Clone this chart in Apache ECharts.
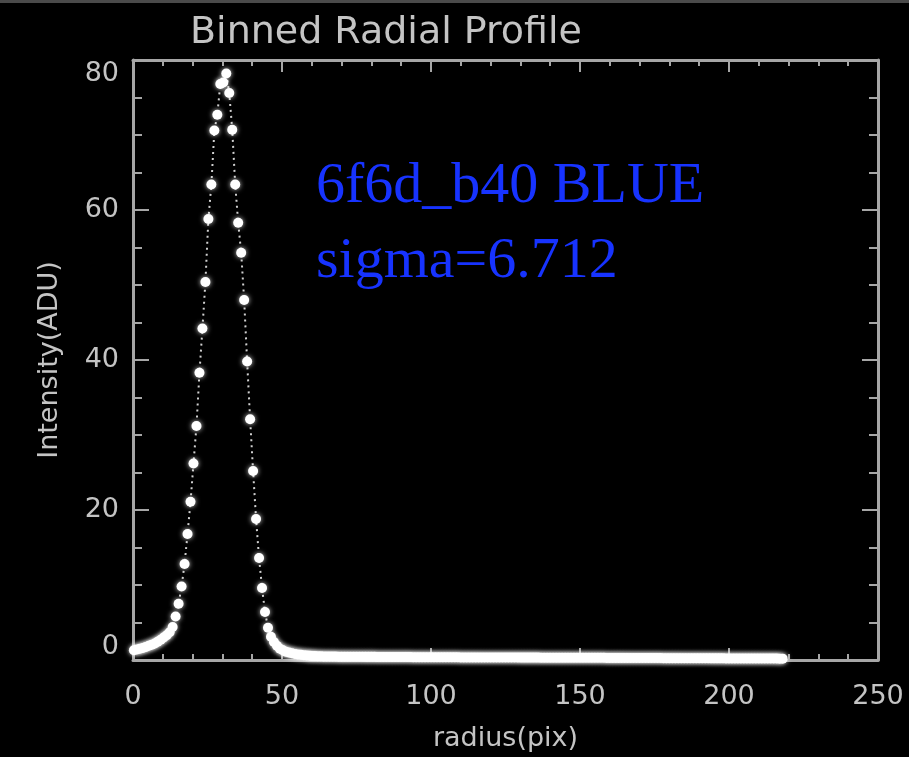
<!DOCTYPE html>
<html>
<head>
<meta charset="utf-8">
<script src="https://cdn.jsdelivr.net/npm/echarts@6/dist/echarts.min.js"></script>
<style>
html,body{margin:0;padding:0;background:#000;}
#chart{width:909px;height:757px;}
</style>
</head>
<body>
<div id="chart"></div>
<script>
// ---- data ----
var chartTitle = 'Binned Radial Profile';
var xName = 'radius(pix)';
var yName = 'Intensity(ADU)';
var noteLine1 = '6f6d_b40 BLUE';
var noteLine2 = 'sigma=6.712';

var xTicks = [0, 50, 100, 150, 200, 250];
var yTicks = [0, 20, 40, 60, 80];

var radius = [
  0.3, 1.3, 2.3, 3.3, 4.3, 5.3, 6.3, 7.3, 8.3, 9.3,
  10.3, 11.3, 12.3, 13.3, 14.3, 15.3, 16.3, 17.3, 18.3, 19.3,
  20.3, 21.3, 22.3, 23.3, 24.3, 25.3, 26.3, 27.3, 28.3, 29.3,
  30.3, 31.3, 32.3, 33.3, 34.3, 35.3, 36.3, 37.3, 38.3, 39.3,
  40.3, 41.3, 42.3, 43.3, 44.3, 45.3, 46.3, 47.3, 48.3, 49.3,
  50.3, 51.3, 52.3, 53.3, 54.3, 55.3, 56.3, 57.3, 58.3, 59.3,
  60, 61, 62, 63, 64, 65, 66, 67, 68, 69,
  70, 71, 72, 73, 74, 75, 76, 77, 78, 79,
  80, 81, 82, 83, 84, 85, 86, 87, 88, 89,
  90, 91, 92, 93, 94, 95, 96, 97, 98, 99,
  100, 101, 102, 103, 104, 105, 106, 107, 108, 109,
  110, 111, 112, 113, 114, 115, 116, 117, 118, 119,
  120, 121, 122, 123, 124, 125, 126, 127, 128, 129,
  130, 131, 132, 133, 134, 135, 136, 137, 138, 139,
  140, 141, 142, 143, 144, 145, 146, 147, 148, 149,
  150, 151, 152, 153, 154, 155, 156, 157, 158, 159,
  160, 161, 162, 163, 164, 165, 166, 167, 168, 169,
  170, 171, 172, 173, 174, 175, 176, 177, 178, 179,
  180, 181, 182, 183, 184, 185, 186, 187, 188, 189,
  190, 191, 192, 193, 194, 195, 196, 197, 198, 199,
  200, 201, 202, 203, 204, 205, 206, 207, 208, 209,
  210, 211, 212, 213, 214, 215, 216, 217, 218
];

var intensity = [
  1.3, 1.4, 1.5, 1.6, 1.75, 1.9, 2.05, 2.2, 2.45, 2.7,
  3.0, 3.3, 3.7, 4.4, 5.8, 7.5, 9.8, 12.8, 16.8, 21.1,
  26.2, 31.2, 38.3, 44.2, 50.4, 58.8, 63.4, 70.6, 72.7, 76.8,
  77.0, 78.2, 75.6, 70.7, 63.4, 58.3, 54.3, 48.0, 39.8, 32.1,
  25.2, 18.8, 13.6, 9.6, 6.4, 4.3, 3.1, 2.4, 1.9, 1.5,
  1.3, 1.1, 1.0, 0.9, 0.8, 0.75, 0.7, 0.65, 0.6, 0.58,
  0.55, 0.52, 0.5, 0.5, 0.48, 0.47, 0.47, 0.46, 0.46, 0.45,
  0.45, 0.45, 0.44, 0.44, 0.44, 0.43, 0.43, 0.43, 0.42, 0.42,
  0.42, 0.42, 0.41, 0.41, 0.41, 0.41, 0.40, 0.40, 0.40, 0.40,
  0.39, 0.39, 0.39, 0.39, 0.38, 0.38, 0.38, 0.38, 0.38, 0.37,
  0.37, 0.37, 0.37, 0.37, 0.36, 0.36, 0.36, 0.36, 0.36, 0.36,
  0.35, 0.35, 0.35, 0.35, 0.35, 0.35, 0.34, 0.34, 0.34, 0.34,
  0.34, 0.34, 0.34, 0.33, 0.33, 0.33, 0.33, 0.33, 0.33, 0.33,
  0.32, 0.32, 0.32, 0.32, 0.32, 0.32, 0.32, 0.31, 0.31, 0.31,
  0.31, 0.31, 0.31, 0.31, 0.30, 0.30, 0.30, 0.30, 0.30, 0.30,
  0.30, 0.30, 0.29, 0.29, 0.29, 0.29, 0.29, 0.29, 0.29, 0.28,
  0.28, 0.28, 0.28, 0.28, 0.28, 0.28, 0.27, 0.27, 0.27, 0.27,
  0.27, 0.27, 0.26, 0.26, 0.26, 0.26, 0.26, 0.26, 0.25, 0.25,
  0.25, 0.25, 0.25, 0.25, 0.24, 0.24, 0.24, 0.24, 0.24, 0.23,
  0.23, 0.23, 0.23, 0.23, 0.22, 0.22, 0.22, 0.22, 0.22, 0.21,
  0.21, 0.21, 0.21, 0.21, 0.20, 0.20, 0.20, 0.20, 0.20, 0.20,
  0.20, 0.19, 0.19, 0.19, 0.19, 0.19, 0.19, 0.18, 0.18
];

// ---- chart ----
var points = [];
for (var i = 0; i < Math.min(radius.length, intensity.length); i++) {
  points.push([radius[i], intensity[i]]);
}

var axisColor = '#a6a6a6';
var labelColor = '#c4c4c4';
var font = 'DejaVu Sans';

function xAxisCfg(pos, showLabel) {
  return {
    type: 'value', position: pos,
    min: xTicks[0], max: xTicks[xTicks.length - 1], interval: xTicks[1] - xTicks[0],
    axisLine: { show: true, onZero: false, lineStyle: { color: axisColor, width: 3 } },
    axisTick: { show: true, inside: true, length: 12, lineStyle: { color: axisColor, width: 2 } },
    minorTick: { show: true, splitNumber: 5, length: 6, lineStyle: { color: axisColor, width: 2 } },
    splitLine: { show: false }, minorSplitLine: { show: false },
    axisLabel: showLabel ? { show: true, color: labelColor, fontFamily: font, fontSize: 27, margin: 23 } : { show: false },
    name: showLabel ? xName : '', nameLocation: 'middle', nameGap: 65,
    nameTextStyle: { color: labelColor, fontFamily: font, fontSize: 27 }
  };
}
function yAxisCfg(pos, showLabel) {
  return {
    type: 'value', position: pos,
    min: yTicks[0], max: yTicks[yTicks.length - 1], interval: yTicks[1] - yTicks[0],
    axisLine: { show: true, onZero: false, lineStyle: { color: axisColor, width: 3 } },
    axisTick: { show: true, inside: true, length: 16, lineStyle: { color: axisColor, width: 2 } },
    minorTick: { show: true, splitNumber: 4, length: 9, lineStyle: { color: axisColor, width: 2 } },
    splitLine: { show: false }, minorSplitLine: { show: false },
    axisLabel: showLabel ? { show: true, color: labelColor, fontFamily: font, fontSize: 27, margin: 14,
      verticalAlignMinLabel: 'bottom', verticalAlignMaxLabel: 'top' } : { show: false },
    name: showLabel ? yName : '', nameLocation: 'middle', nameGap: 70, nameRotate: 90,
    nameTextStyle: { color: labelColor, fontFamily: font, fontSize: 27 }
  };
}

var chart = echarts.init(document.getElementById('chart'), null, { renderer: 'canvas' });
chart.setOption({
  backgroundColor: '#000',
  animation: false,
  title: {
    text: chartTitle, left: 185, top: 9,
    textStyle: { color: labelColor, fontFamily: font, fontSize: 38, fontWeight: 'normal' }
  },
  grid: { left: 133, right: 31, top: 60, bottom: 95, containLabel: false },
  xAxis: [xAxisCfg('bottom', true), xAxisCfg('top', false)],
  yAxis: [yAxisCfg('left', true), yAxisCfg('right', false)],
  graphic: [
    { type: 'rect', shape: { x: 0, y: 0, width: 909, height: 3 }, style: { fill: '#4a4a4a' } },
    { type: 'text', left: 316, top: 158, style: { text: noteLine1, fill: '#1733ff', font: '58px "Liberation Serif"' } },
    { type: 'text', left: 316, top: 233, style: { text: noteLine2, fill: '#1733ff', font: '58px "Liberation Serif"' } }
  ],
  series: [{
    type: 'line',
    xAxisIndex: 0, yAxisIndex: 0,
    data: points,
    showAllSymbol: true,
    symbol: 'circle', symbolSize: 10,
    itemStyle: { color: '#ffffff', shadowBlur: 5, shadowColor: 'rgba(255,255,255,0.8)' },
    lineStyle: { color: '#d0d0d0', width: 2, type: [2, 4] },
    clip: false
  }]
});
</script>
</body>
</html>
